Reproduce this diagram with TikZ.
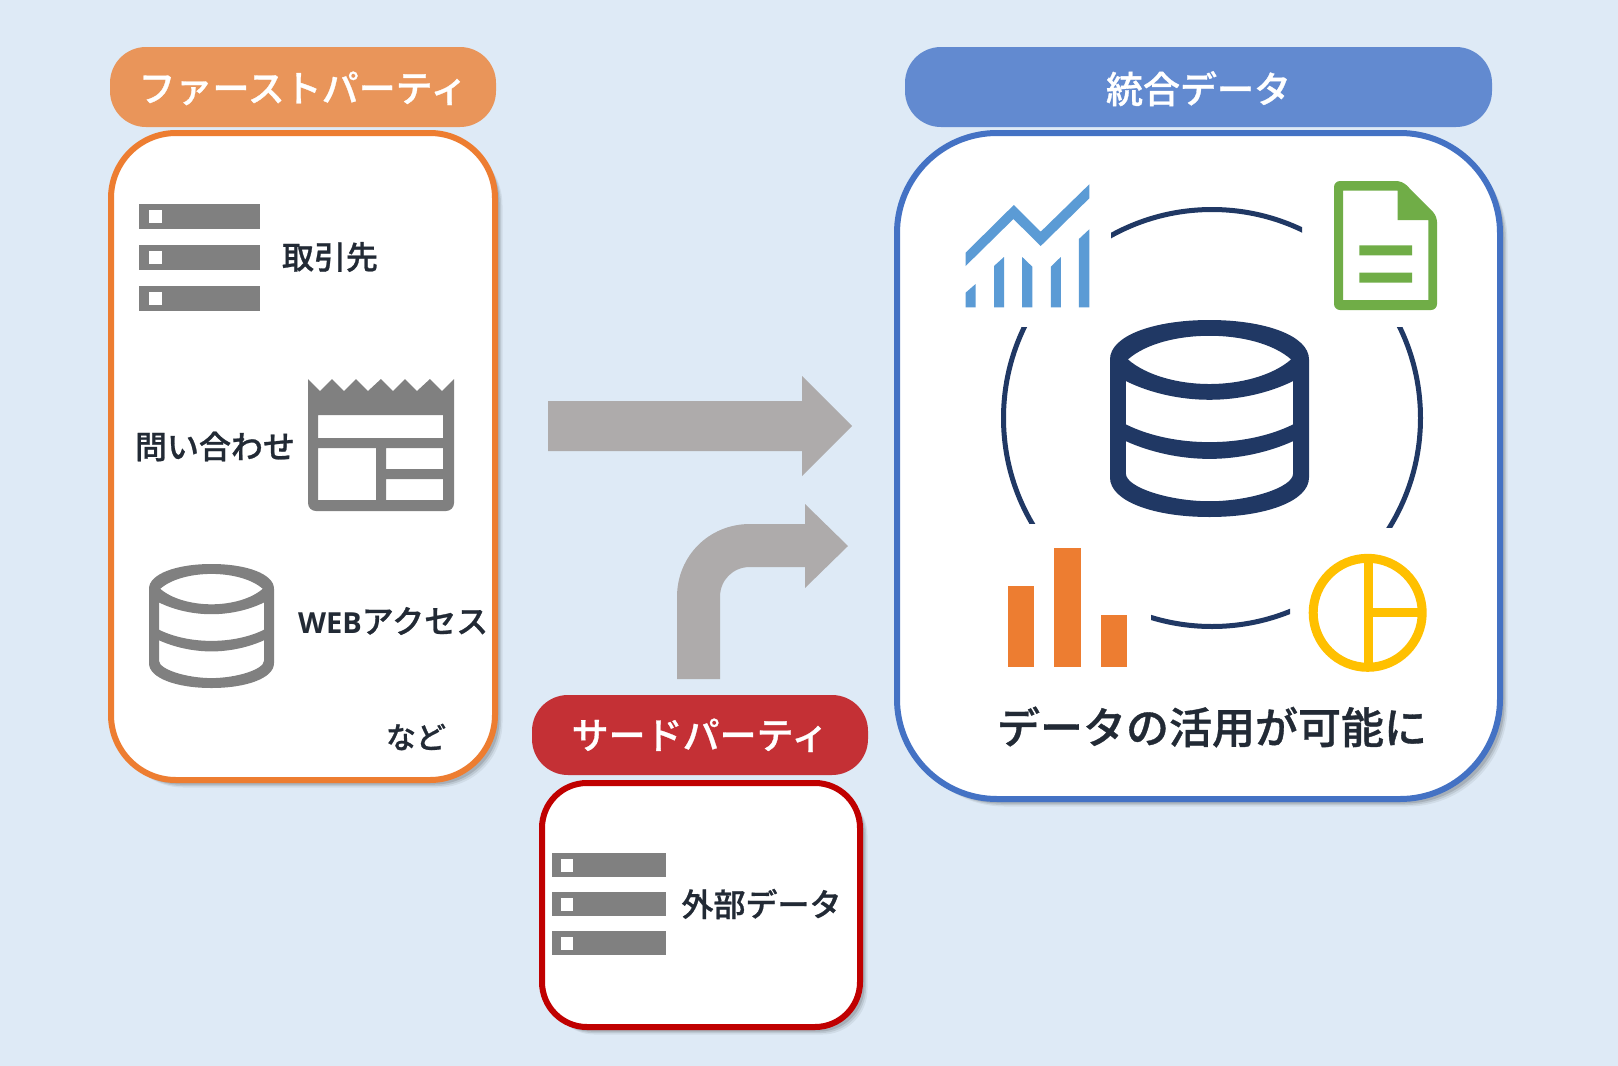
\documentclass[tikz,border=0pt]{standalone}
\usepackage{fontspec}
\usetikzlibrary{shadows}
\setmainfont{Noto Sans CJK JP}
\newfontfamily\medfont[FakeBold=0.8]{Noto Sans CJK JP Medium}
\newfontfamily\latinbold{Open Sans}
\definecolor{bgblue}{HTML}{DEEAF6}
\definecolor{inkdark}{HTML}{222A35}
\definecolor{icongrey}{HTML}{808080}
\definecolor{arrowgrey}{HTML}{AEABAB}
\definecolor{navy}{HTML}{203864}
\definecolor{orangeline}{HTML}{ED7D31}
\definecolor{orangehead}{HTML}{E9955A}
\definecolor{blueline}{HTML}{4472C4}
\definecolor{bluehead}{HTML}{628AD0}
\definecolor{redline}{HTML}{C00000}
\definecolor{redhead}{HTML}{C43035}
\definecolor{chartblue}{HTML}{5B9BD5}
\definecolor{docgreen}{HTML}{70AD47}
\definecolor{piegold}{HTML}{FFC000}
\tikzset{
  panel/.style={rectangle,draw=#1,fill=white,line width=6pt,inner sep=0pt,outer sep=0pt,
    general shadow={fill=black,opacity=.06,shadow xshift=7.5pt,shadow yshift=-7.5pt},
    general shadow={fill=black,opacity=.09,shadow xshift=6pt,shadow yshift=-6pt},
    general shadow={fill=black,opacity=.12,shadow xshift=4.5pt,shadow yshift=-4.5pt}},
  pill/.style={rectangle,fill=#1,rounded corners=36pt,inner sep=0pt,outer sep=0pt,text=white,
    font=\medfont\fontsize{37}{40}\selectfont},
  label/.style={inner sep=0pt,outer sep=0pt,text=inkdark,font=\medfont\fontsize{32}{36}\selectfont},
  arcline/.style={draw=navy,line width=5pt},
  bigarrow/.style={fill=arrowgrey}
}
\newcommand{\servericon}[8]{%
  \foreach \by in {#7,#8,\thirdbar}{
    \fill[icongrey] (#1,\by) rectangle (#2,\by+#5);
    \fill[white] (#3,\by+#6) rectangle (#4,\by+#6+12.5);
  }}
\newcommand{\dbicon}[5]{%
  \begin{scope}[shift={(#1,#2)},xscale=#3,yscale=#4]
  \fill[#5,even odd rule]
    (0,20) .. controls (0,8) and (22,0) .. (50,0) .. controls (78,0) and (100,8) .. (100,20)
      -- (100,80) .. controls (100,92) and (78,100) .. (50,100) .. controls (22,100) and (0,92) .. (0,80) -- cycle
    (9,20) .. controls (18,12) and (34,8) .. (50,8) .. controls (66,8) and (82,12) .. (91,20)
      .. controls (82,28) and (66,32.5) .. (50,32.5) .. controls (34,32.5) and (18,28) .. (9,20) -- cycle
    (8,31) .. controls (20,37) and (35,40.5) .. (50,40.5) .. controls (65,40.5) and (80,37) .. (92,31)
      -- (92,53) .. controls (80,59) and (65,62) .. (50,62) .. controls (35,62) and (20,59) .. (8,53) -- cycle
    (8,61.5) .. controls (20,67) and (35,70.5) .. (50,70.5) .. controls (65,70.5) and (80,67) .. (92,61.5)
      -- (92,78) .. controls (92,85) and (70,92) .. (50,92) .. controls (30,92) and (8,85) .. (8,78) -- cycle;
  \end{scope}}
\begin{document}
\begin{tikzpicture}[x=1pt,y=-1pt]
\useasboundingbox (0,0) rectangle (1618,1066);
\fill[bgblue] (0,0) rectangle (1618,1066);

% panels
\node[panel=orangeline,minimum width=384pt,minimum height=647pt,rounded corners=65pt] (firstbox) at (303,456.5) {};
\node[panel=blueline,minimum width=603pt,minimum height=666pt,rounded corners=100pt] (mergedbox) at (1198.5,466) {};
\node[panel=redline,minimum width=318pt,minimum height=244pt,rounded corners=45pt] (thirdbox) at (701,905) {};

% headers
\node[pill=orangehead,minimum width=386pt,minimum height=80pt] (firsthead) at (303,87) {\raisebox{-15pt}[0pt][0pt]{ファーストパーティ}};
\node[pill=bluehead,minimum width=587pt,minimum height=80pt] (mergedhead) at (1198.5,87) {\raisebox{-16pt}[0pt][0pt]{統合データ}};
\node[pill=redhead,minimum width=336pt,minimum height=80pt] (thirdhead) at (700,735) {\raisebox{-14pt}[0pt][0pt]{サードパーティ}};

% server icons
\def\thirdbar{286}
\servericon{139}{260}{149}{162}{25}{6}{204}{245}
\def\thirdbar{931}
\servericon{552}{666}{561}{573}{24}{6}{853}{892}

% newspaper icon
\fill[icongrey,even odd rule]
  (308,379) -- (320,391) -- (332,379) -- (344,391) -- (356,379) -- (368,391) -- (381,379)
  -- (393,391) -- (405,379) -- (417,391) -- (430,379) -- (442,391) -- (454,379)
  [rounded corners=8pt] -- (454,511) -- (308,511) [sharp corners] -- cycle
  (318,415) rectangle (443,438)
  (318,448) rectangle (376,500)
  (386,448) rectangle (443,469)
  (386,479) rectangle (443,500);

% database icons
\dbicon{149}{564}{1.25}{1.24}{icongrey}
\dbicon{1110}{320}{1.99}{1.97}{navy}

% ring arcs
\begin{scope}\clip (1111,150) rectangle (1302,300);
  \draw[arcline] (1212,418) circle[radius=208.5pt];\end{scope}
\begin{scope}\clip (1151,550) rectangle (1290,660);
  \draw[arcline] (1212,418) circle[radius=208.5pt];\end{scope}
\begin{scope}\clip (980,327) rectangle (1100,523);
  \draw[arcline] (1212,418) circle[radius=208.5pt];\end{scope}
\begin{scope}\clip (1320,327) rectangle (1440,527);
  \draw[arcline] (1212,418) circle[radius=208.5pt];\end{scope}

% line chart icon
\fill[chartblue] (965.6,266) -- (965.6,252.7) -- (1013.8,205) -- (1040.7,231.7) -- (1089.3,184.3)
  -- (1089.3,198.3) -- (1040.7,246) -- (1013.4,219) -- cycle;
\fill[chartblue] (965.6,307.3) -- (965.6,292.7) -- (975.6,284) -- (975.6,307.3) -- cycle;
\fill[chartblue] (994,307.3) -- (994,266) -- (1004,257) -- (1004,307.3) -- cycle;
\fill[chartblue] (1022.2,307.3) -- (1022.2,257) -- (1032.3,266.7) -- (1032.3,307.3) -- cycle;
\fill[chartblue] (1050.8,307.3) -- (1050.8,266.7) -- (1060.8,257) -- (1060.8,307.3) -- cycle;
\fill[chartblue] (1078.9,307.3) -- (1078.9,239) -- (1089.3,229.3) -- (1089.3,307.3) -- cycle;

% document icon
\fill[docgreen,even odd rule]
  [rounded corners=6pt] (1334,181) -- (1402.3,181) -- (1437,216) -- (1437,310) -- (1334,310) -- cycle
  [sharp corners] (1343.2,190.7) -- (1397.5,190.7) -- (1397.5,220) -- (1428.4,220) -- (1428.4,300)
  -- (1343.2,300) -- cycle
  (1359.3,245.3) rectangle (1412,255.3)
  (1359.3,272.7) rectangle (1412,282.7);

% bar chart icon
\fill[orangeline] (1007.8,585.7) rectangle (1033.9,667);
\fill[orangeline] (1054.4,548.3) rectangle (1080.5,667);
\fill[orangeline] (1101,615.3) rectangle (1127,667);

% pie icon
\draw[piegold,line width=9pt] (1367.7,612.8) circle[radius=54.5pt];
\fill[piegold] (1363.7,556) rectangle (1373,670);
\fill[piegold] (1373,608.3) rectangle (1424,617.3);

% arrows
\fill[bigarrow] (548,401) -- (802,401) -- (802,376) -- (852,426) -- (802,476) -- (802,451) -- (548,451) -- cycle;
\fill[bigarrow] (677,679) -- (677,597) .. controls (677,556) and (709,524) .. (750,524) -- (805,524) -- (805,504)
  -- (848,546) -- (805,588) -- (805,567) -- (750,567) .. controls (733,567) and (720,580) .. (720,597) -- (720,679) -- cycle;

% labels
\node[label] (torihiki) at (330,257) {取引先};
\node[label] (toiawase) at (215,446.5) {問い合わせ};
\node[label,anchor=west] (webaccess) at (298,621) {{\latinbold\bfseries\fontsize{29}{36}\selectfont WEB}アクセス};
\node[label,font=\medfont\fontsize{30}{36}\selectfont] (nado) at (416,737) {など};
\node[label] (gaibu) at (761.5,904) {外部データ};
\node[label,font=\medfont\fontsize{43}{48}\selectfont] (katsuyo) at (1212,727) {データの活用が可能に};
\end{tikzpicture}
\end{document}
